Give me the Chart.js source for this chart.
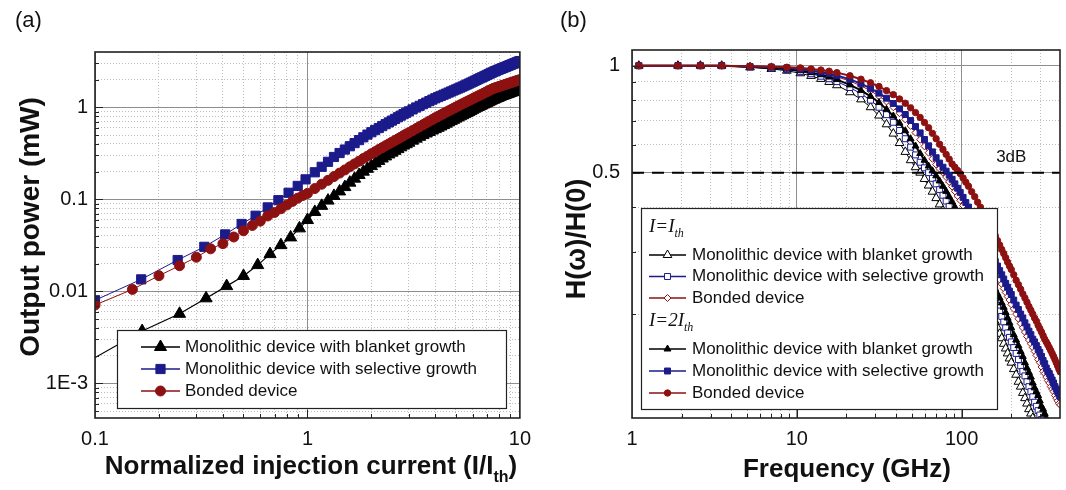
<!DOCTYPE html>
<html>
<head>
<meta charset="utf-8">
<script src="https://cdn.jsdelivr.net/npm/chart.js@4.4.1/dist/chart.umd.min.js"></script>
<style>
  body { margin: 0; background: #fff; }
  #page { position: relative; width: 1066px; height: 490px; overflow: hidden; font-family: "Liberation Sans", Arial, sans-serif; color: #111; }
  canvas { position: absolute; top: 0; }
  #ca { left: 0; }
  #cb { left: 540px; }
  .t { position: absolute; white-space: nowrap; line-height: 1; }
  .ttl { font-weight: bold; transform: translate(-50%, -50%); }
  .rot { transform: translate(-50%, -50%) rotate(-90deg); }
  .ttl sub { font-size: 16px; vertical-align: -8px; }
</style>
</head>
<body>
<div id="page">
  <canvas id="ca" width="540" height="490"></canvas>
  <canvas id="cb" width="526" height="490"></canvas>
  <div class="t" style="left:15px;top:9px;font-size:22px">(a)</div>
  <div class="t" style="left:560px;top:9px;font-size:22px">(b)</div>
  <div class="t ttl rot" style="left:30px;top:227px;font-size:28px">Output power (mW)</div>
  <div class="t ttl" style="left:311px;top:468px;font-size:26px">Normalized injection current (I/I<sub>th</sub>)</div>
  <div class="t ttl rot" style="left:576px;top:239px;font-size:27px">H(ω)/H(0)</div>
  <div class="t ttl" style="left:847px;top:468px;font-size:26px">Frequency (GHz)</div>
</div>
<script>
// ---- panel (a): output power vs normalized current ----
const seriesNames = ['Monolithic device with blanket growth', 'Monolithic device with selective growth', 'Bonded device'];

// current points above threshold, shared by the three L-I curves
const upperX = [1.0833, 1.1667, 1.25, 1.3333, 1.4167, 1.5, 1.5833, 1.6667, 1.75, 1.8333, 1.9167, 2.0,
  2.0833, 2.1667, 2.25, 2.3333, 2.4167, 2.5, 2.5833, 2.6667, 2.75, 2.8333, 2.9167, 3.0,
  3.125, 3.25, 3.375, 3.5, 3.625, 3.75, 3.875, 4.0,
  4.125, 4.25, 4.375, 4.5, 4.625, 4.75, 4.875, 5.0,
  5.125, 5.25, 5.375, 5.5, 5.625, 5.75, 5.875, 6.0,
  6.125, 6.25, 6.375, 6.5, 6.625, 6.75, 6.875, 7.0,
  7.125, 7.25, 7.375, 7.5, 7.625, 7.75, 7.875, 8.0,
  8.125, 8.25, 8.375, 8.5, 8.625, 8.75, 8.875, 9.0,
  9.125, 9.25, 9.375, 9.5, 9.625, 9.75, 9.875, 10.0];

const blanketX = [0.0833, 0.1667, 0.25, 0.3333, 0.4167, 0.5, 0.5833, 0.6667, 0.75, 0.8333, 0.9167, 1.0].concat(upperX);
const blanketP = [0.0015, 0.0037, 0.0057, 0.0084, 0.0114, 0.0147, 0.0193, 0.0254, 0.0318, 0.0386, 0.0484, 0.0596,
  0.073, 0.085, 0.097, 0.109, 0.122, 0.136, 0.152, 0.168, 0.184, 0.2, 0.215, 0.23,
  0.246, 0.262, 0.278, 0.293, 0.308, 0.322, 0.337, 0.352, 0.368, 0.384, 0.398, 0.413,
  0.435, 0.457, 0.479, 0.5, 0.52, 0.54, 0.56, 0.58,
  0.6, 0.62, 0.642, 0.665, 0.687, 0.71, 0.732, 0.755,
  0.777, 0.8, 0.822, 0.845, 0.867, 0.89, 0.915, 0.94,
  0.965, 0.99, 1.01, 1.03, 1.052, 1.075, 1.098, 1.12,
  1.142, 1.165, 1.188, 1.21, 1.23, 1.25, 1.27, 1.29,
  1.31, 1.33, 1.345, 1.36, 1.378, 1.395, 1.412, 1.43,
  1.447, 1.464, 1.48, 1.497, 1.513, 1.53, 1.547, 1.565];

const selectiveX = [0.1, 0.165, 0.245, 0.327, 0.41, 0.49, 0.57, 0.65, 0.73, 0.815, 0.9, 0.98].concat(upperX);
const selectiveP = [0.008, 0.0135, 0.0219, 0.0305, 0.0416, 0.054, 0.0664, 0.0818, 0.098, 0.118, 0.14, 0.165,
  0.197, 0.226, 0.256, 0.289, 0.319, 0.348, 0.378, 0.409, 0.441, 0.473, 0.506, 0.537,
  0.567, 0.596, 0.626, 0.657, 0.687, 0.718, 0.749, 0.781, 0.813, 0.844, 0.874, 0.905,
  0.951, 0.997, 1.04, 1.083, 1.126, 1.17, 1.214, 1.256,
  1.295, 1.334, 1.373, 1.411, 1.45, 1.489, 1.528, 1.567,
  1.605, 1.644, 1.686, 1.729, 1.771, 1.815, 1.858, 1.901,
  1.944, 1.987, 2.031, 2.075, 2.118, 2.162, 2.206, 2.25,
  2.295, 2.339, 2.383, 2.428, 2.472, 2.51, 2.548, 2.586,
  2.624, 2.662, 2.7, 2.737, 2.775, 2.813, 2.851, 2.888,
  2.926, 2.963, 3.001, 3.038, 3.076, 3.113, 3.151, 3.188];

const bondedX = [0.1, 0.15, 0.2, 0.25, 0.3, 0.35, 0.4, 0.45, 0.5, 0.55, 0.6, 0.65, 0.7, 0.75, 0.8, 0.85, 0.9, 0.95, 1.0].concat(upperX);
const bondedP = [0.0071, 0.0105, 0.0148, 0.019, 0.0235, 0.029, 0.033, 0.039, 0.0455, 0.052, 0.058, 0.066, 0.072, 0.079, 0.087, 0.095, 0.103, 0.11, 0.116,
  0.131, 0.146, 0.161, 0.177, 0.193, 0.209, 0.226, 0.243, 0.26, 0.278, 0.295, 0.313,
  0.33, 0.348, 0.365, 0.383, 0.401, 0.419, 0.437, 0.455, 0.474, 0.493, 0.512, 0.531,
  0.559, 0.589, 0.618, 0.648, 0.678, 0.709, 0.74, 0.771,
  0.8, 0.829, 0.859, 0.888, 0.918, 0.948, 0.978, 1.008,
  1.037, 1.066, 1.095, 1.125, 1.154, 1.184, 1.213, 1.243,
  1.273, 1.303, 1.333, 1.363, 1.393, 1.423, 1.454, 1.484,
  1.515, 1.545, 1.576, 1.607, 1.627, 1.648, 1.668, 1.688,
  1.708, 1.728, 1.748, 1.767, 1.787, 1.807, 1.826, 1.846,
  1.865, 1.885, 1.904, 1.923, 1.943, 1.962, 1.981, 2.0];

const xTicksA = [0.1, 1, 10];
const xLabelsA = ['0.1', '1', '10'];
const yTicksA = [0.001, 0.01, 0.1, 1];
const yLabelsA = ['1E-3', '0.01', '0.1', '1'];

// ---- panel (b): normalized modulation response ----
const freq = [1.1, 1.9, 2.6, 3.5, 5.2, 7, 8.7, 10.5, 12.2, 14, 15.7, 17.5,
  21, 24.5, 28, 31.5, 35, 38.5, 42, 45.5, 49, 52.5, 56, 59.5, 63, 66.5, 70,
  73.5, 77, 80.5, 84, 87.5, 91, 94.5, 98, 102, 106, 110,
  115, 120, 125, 130, 135, 140, 145, 150, 155, 160, 165, 170, 175, 180, 185, 190, 195, 200,
  207, 214, 221, 228, 235, 242, 249, 256, 263, 270, 277, 284, 291, 298, 305, 312, 319, 326,
  333, 340, 347, 354, 361, 368, 375, 382, 389, 396, 403];

const blanketIth = [1, 1, 1, 1, 0.989, 0.979, 0.968, 0.952, 0.936, 0.918, 0.9, 0.881,
  0.842, 0.804, 0.764, 0.724, 0.684, 0.644, 0.606, 0.572, 0.542, 0.518, 0.5, 0.48, 0.46, 0.442, 0.424,
  0.407, 0.391, 0.376, 0.362, 0.349, 0.336, 0.324, 0.313, 0.302, 0.29, 0.279,
  0.267, 0.257, 0.247, 0.238, 0.229, 0.222, 0.214, 0.206, 0.198, 0.19, 0.183, 0.176, 0.171, 0.165, 0.16, 0.155, 0.15, 0.146,
  0.14, 0.135, 0.129, 0.125, 0.12, 0.116, 0.112, 0.108, 0.105, 0.102, 0.098];
const selectiveIth = [1, 1, 1, 1, 0.991, 0.984, 0.975, 0.962, 0.949, 0.934, 0.919, 0.902,
  0.868, 0.834, 0.8, 0.764, 0.728, 0.693, 0.657, 0.623, 0.59, 0.561, 0.535, 0.516, 0.5, 0.482, 0.465,
  0.448, 0.432, 0.416, 0.402, 0.388, 0.375, 0.362, 0.35, 0.337, 0.325, 0.314,
  0.301, 0.288, 0.276, 0.266, 0.257, 0.248, 0.24, 0.232, 0.225, 0.218, 0.211, 0.204, 0.197, 0.19, 0.183, 0.177, 0.172, 0.167,
  0.161, 0.155, 0.149, 0.143, 0.138, 0.134, 0.129, 0.125, 0.121, 0.117, 0.113, 0.11, 0.107, 0.104, 0.101, 0.098];
const bondedIth = [1, 1, 1, 1, 0.994, 0.99, 0.984, 0.975, 0.967, 0.955, 0.944, 0.931,
  0.905, 0.878, 0.85, 0.821, 0.793, 0.764, 0.735, 0.706, 0.677, 0.648, 0.619, 0.593, 0.569, 0.547, 0.527,
  0.513, 0.5, 0.486, 0.471, 0.457, 0.443, 0.43, 0.418, 0.404, 0.391, 0.378,
  0.363, 0.35, 0.337, 0.324, 0.313, 0.302, 0.292, 0.282, 0.272, 0.265, 0.257, 0.25, 0.243, 0.236, 0.23, 0.224, 0.219, 0.213,
  0.207, 0.2, 0.194, 0.188, 0.183, 0.178, 0.173, 0.169, 0.165, 0.161, 0.157, 0.153, 0.149, 0.146, 0.142, 0.138, 0.136, 0.133,
  0.13, 0.128, 0.125, 0.123, 0.121, 0.118, 0.116, 0.114, 0.112, 0.111, 0.109];
const blanket2Ith = [1, 1, 1, 1, 0.993, 0.987, 0.978, 0.968, 0.956, 0.943, 0.929, 0.914,
  0.883, 0.852, 0.82, 0.788, 0.754, 0.722, 0.689, 0.656, 0.623, 0.594, 0.566, 0.542, 0.522, 0.506, 0.49,
  0.474, 0.458, 0.443, 0.428, 0.414, 0.4, 0.387, 0.376, 0.362, 0.35, 0.338,
  0.324, 0.311, 0.299, 0.287, 0.276, 0.267, 0.258, 0.249, 0.242, 0.235, 0.228, 0.222, 0.215, 0.209, 0.202, 0.195, 0.189, 0.183,
  0.175, 0.169, 0.163, 0.157, 0.152, 0.146, 0.141, 0.137, 0.133, 0.128, 0.124, 0.121, 0.118, 0.114, 0.11, 0.108, 0.105, 0.102,
  0.0995, 0.097];
const selective2Ith = [1, 1, 1, 1, 0.995, 0.991, 0.986, 0.978, 0.97, 0.96, 0.95, 0.939,
  0.915, 0.89, 0.863, 0.837, 0.81, 0.783, 0.756, 0.729, 0.701, 0.674, 0.647, 0.62, 0.595, 0.572, 0.551,
  0.532, 0.518, 0.505, 0.492, 0.479, 0.465, 0.452, 0.44, 0.426, 0.412, 0.4,
  0.385, 0.37, 0.357, 0.344, 0.332, 0.321, 0.31, 0.3, 0.291, 0.281, 0.273, 0.265, 0.258, 0.251, 0.244, 0.238, 0.232, 0.227,
  0.219, 0.212, 0.206, 0.2, 0.195, 0.189, 0.184, 0.179, 0.175, 0.17, 0.167, 0.163, 0.159, 0.156, 0.152, 0.148, 0.145, 0.141,
  0.138, 0.136, 0.133, 0.1305, 0.128, 0.125, 0.123, 0.121, 0.119, 0.117, 0.115];
const bonded2Ith = [1, 1, 1, 1, 0.997, 0.993, 0.99, 0.986, 0.979, 0.972, 0.965, 0.956,
  0.937, 0.916, 0.895, 0.874, 0.851, 0.829, 0.806, 0.784, 0.761, 0.738, 0.715, 0.692, 0.669, 0.645, 0.623,
  0.601, 0.581, 0.563, 0.546, 0.529, 0.518, 0.507, 0.497, 0.483, 0.47, 0.458,
  0.442, 0.428, 0.413, 0.4, 0.387, 0.375, 0.363, 0.352, 0.341, 0.332, 0.322, 0.313, 0.304, 0.296, 0.288, 0.28, 0.273, 0.267,
  0.258, 0.249, 0.242, 0.235, 0.228, 0.222, 0.216, 0.21, 0.205, 0.2, 0.195, 0.191, 0.186, 0.182, 0.178, 0.174, 0.17, 0.167,
  0.164, 0.161, 0.158, 0.155, 0.152, 0.149, 0.146, 0.143, 0.14, 0.1375, 0.135];

const threeDb = 0.5;
const xTicksB = [1, 10, 100];
const xLabelsB = ['1', '10', '100'];
const yTicksB = [0.5, 1];
const yLabelsB = ['0.5', '1'];

// ---- helpers ----
const BLACK = '#000000', BLUE = '#1b1b8c', RED = '#8e1111';
const FONT = '"Liberation Sans", Arial, sans-serif';
Chart.defaults.font.family = FONT;

function pts(xs, ys) {
  return ys.map((v, i) => ({ x: xs[i], y: v }));
}

function near(v, list) {
  return list.findIndex(t => Math.abs(v - t) < t * 1e-6);
}

function logGrid(min, max) {
  const out = [];
  for (let e = Math.floor(Math.log10(min)); e <= Math.ceil(Math.log10(max)); e++) {
    for (let m = 1; m < 10; m++) {
      const v = parseFloat((m * Math.pow(10, e)).toPrecision(6));
      if (v >= min * 0.9999 && v <= max * 1.0001) out.push(v);
    }
  }
  return out;
}

function logAxis(min, max, major, labels, pad, size) {
  return {
    type: 'logarithmic',
    min: min,
    max: max,
    afterBuildTicks: s => { s.ticks = logGrid(min, max).map(v => ({ value: v })); },
    afterFit: s => { if (s.isHorizontal()) s.height = size; else s.width = size; },
    ticks: {
      autoSkip: false,
      maxRotation: 0,
      padding: pad,
      color: '#111',
      font: { size: 20 },
      callback: v => { const i = near(v, major); return i < 0 ? '' : labels[i]; }
    },
    grid: {
      drawTicks: false,
      lineWidth: 1,
      color: c => (c.tick && near(c.tick.value, major) >= 0) ? '#8e8e8e' : '#bdbdbd'
    },
    border: {
      display: false,
      dash: c => (c.tick && near(c.tick.value, major) < 0) ? [1, 2] : []
    }
  };
}

function drawMarker(ctx, s, x, y) {
  const r = s.r;
  ctx.beginPath();
  if (s.shape === 'triangle') {
    ctx.moveTo(x, y - r);
    ctx.lineTo(x + r * 0.866, y + r * 0.5);
    ctx.lineTo(x - r * 0.866, y + r * 0.5);
    ctx.closePath();
  } else if (s.shape === 'rect') {
    const h = r * Math.SQRT1_2;
    ctx.rect(x - h, y - h, 2 * h, 2 * h);
  } else if (s.shape === 'rectRot') {
    ctx.moveTo(x, y - r); ctx.lineTo(x + r, y); ctx.lineTo(x, y + r); ctx.lineTo(x - r, y);
    ctx.closePath();
  } else {
    ctx.arc(x, y, r, 0, Math.PI * 2);
  }
  ctx.fillStyle = s.open ? '#fff' : s.color;
  ctx.fill();
  ctx.lineWidth = 1;
  ctx.strokeStyle = s.color;
  ctx.stroke();
}

function drawLegend(ctx, L) {
  ctx.fillStyle = '#fff';
  ctx.fillRect(L.box[0], L.box[1], L.box[2], L.box[3]);
  ctx.lineWidth = 1.2;
  ctx.strokeStyle = '#222';
  ctx.strokeRect(L.box[0] + 0.5, L.box[1] + 0.5, L.box[2], L.box[3]);
  ctx.textBaseline = 'middle';
  ctx.textAlign = 'left';
  L.rows.forEach(row => {
    if (row.header) {
      ctx.fillStyle = '#111';
      ctx.font = 'italic 19px "Liberation Serif", "Times New Roman", serif';
      ctx.fillText(row.header, L.lineX[0], row.y);
      const w = ctx.measureText(row.header).width;
      ctx.font = 'italic 12px "Liberation Serif", "Times New Roman", serif';
      ctx.fillText('th', L.lineX[0] + w, row.y + 7);
      return;
    }
    ctx.strokeStyle = row.style.color;
    ctx.lineWidth = 1.3;
    ctx.beginPath();
    ctx.moveTo(L.lineX[0], row.y);
    ctx.lineTo(L.lineX[1], row.y);
    ctx.stroke();
    drawMarker(ctx, row.style, (L.lineX[0] + L.lineX[1]) / 2, row.y);
    ctx.fillStyle = '#111';
    ctx.font = '17px ' + FONT;
    ctx.fillText(row.text, L.textX, row.y);
  });
}

function framePlugin(cfg) {
  return {
    id: 'frame',
    afterDatasetsDraw(chart) {
      const ctx = chart.ctx, a = chart.chartArea;
      const xs = chart.scales.x, ys = chart.scales.y;
      ctx.save();
      if (cfg.extra) cfg.extra(chart);
      ctx.strokeStyle = '#222';
      ctx.lineWidth = 1;
      ctx.beginPath();
      xs.ticks.forEach(t => {
        const p = Math.round(xs.getPixelForValue(t.value)) + 0.5;
        if (p <= a.left + 1 || p >= a.right - 1) return;
        const len = near(t.value, cfg.majorX) >= 0 ? 8 : 4;
        ctx.moveTo(p, a.bottom); ctx.lineTo(p, a.bottom - len);
      });
      ys.ticks.forEach(t => {
        const p = Math.round(ys.getPixelForValue(t.value)) + 0.5;
        if (p <= a.top + 1 || p >= a.bottom - 1) return;
        const len = near(t.value, cfg.majorY) >= 0 ? 8 : 4;
        ctx.moveTo(a.left, p); ctx.lineTo(a.left + len, p);
      });
      ctx.stroke();
      drawLegend(ctx, cfg.legend);
      ctx.lineWidth = 1.6;
      ctx.strokeStyle = '#222';
      ctx.strokeRect(a.left, a.top, a.right - a.left, a.bottom - a.top);
      ctx.restore();
    }
  };
}

function lineSet(label, data, s, width) {
  return {
    label: label,
    data: data,
    borderColor: s.color,
    borderWidth: width,
    pointStyle: s.shape,
    pointRadius: s.r,
    pointBorderWidth: 1,
    pointBorderColor: s.color,
    pointBackgroundColor: s.open ? '#fff' : s.color,
    tension: 0
  };
}

const baseOpts = {
  responsive: false,
  animation: false,
  devicePixelRatio: 1,
  events: [],
  plugins: { legend: { display: false }, tooltip: { enabled: false } }
};

// ---- chart (a) ----
const styleA = [
  { color: BLACK, shape: 'triangle', r: 7, open: false },
  { color: BLUE, shape: 'rect', r: 6.5, open: false },
  { color: RED, shape: 'circle', r: 5, open: false }
];

new Chart(document.getElementById('ca'), {
  type: 'line',
  data: {
    datasets: [
      lineSet(seriesNames[2], pts(bondedX, bondedP), styleA[2], 1),
      lineSet(seriesNames[1], pts(selectiveX, selectiveP), styleA[1], 1),
      lineSet(seriesNames[0], pts(blanketX, blanketP), styleA[0], 1.2)
    ]
  },
  options: Object.assign({}, baseOpts, {
    layout: { padding: { left: 0, top: 52, right: 13, bottom: 0 } },
    scales: {
      x: logAxis(0.1, 10, xTicksA, xLabelsA, 9, 72),
      y: logAxis(4.2e-4, 4, yTicksA, yLabelsA, 7, 95)
    }
  }),
  plugins: [framePlugin({
    majorX: xTicksA,
    majorY: yTicksA,
    legend: {
      box: [117, 330, 389, 78],
      lineX: [141, 180],
      textX: 185,
      rows: [
        { y: 347, style: styleA[0], text: seriesNames[0] },
        { y: 369, style: styleA[1], text: seriesNames[1] },
        { y: 391, style: styleA[2], text: seriesNames[2] }
      ]
    }
  })]
});

// ---- chart (b) ----
const styleIth = [
  { color: BLACK, shape: 'triangle', r: 5, open: true },
  { color: BLUE, shape: 'rect', r: 4.2, open: true },
  { color: RED, shape: 'rectRot', r: 3.5, open: true }
];
const style2Ith = [
  { color: BLACK, shape: 'triangle', r: 4, open: false },
  { color: BLUE, shape: 'rect', r: 4.2, open: false },
  { color: RED, shape: 'circle', r: 3.2, open: false }
];
const freqMin = 1, freqMax = 395;

new Chart(document.getElementById('cb'), {
  type: 'line',
  data: {
    datasets: [
      {
        label: '3dB',
        data: [{ x: freqMin, y: threeDb }, { x: freqMax, y: threeDb }],
        borderColor: '#000',
        borderWidth: 2,
        borderDash: [12, 8],
        pointRadius: 0
      },
      lineSet(seriesNames[2] + ' 2Ith', pts(freq, bonded2Ith), style2Ith[2], 2),
      lineSet(seriesNames[1] + ' 2Ith', pts(freq, selective2Ith), style2Ith[1], 2),
      lineSet(seriesNames[0] + ' 2Ith', pts(freq, blanket2Ith), style2Ith[0], 2),
      lineSet(seriesNames[2] + ' Ith', pts(freq, bondedIth), styleIth[2], 1),
      lineSet(seriesNames[1] + ' Ith', pts(freq, selectiveIth), styleIth[1], 1),
      lineSet(seriesNames[0] + ' Ith', pts(freq, blanketIth), styleIth[0], 1)
    ]
  },
  options: Object.assign({}, baseOpts, {
    layout: { padding: { left: 0, top: 50, right: 4, bottom: 0 } },
    scales: {
      x: logAxis(freqMin, freqMax, xTicksB, xLabelsB, 9, 72),
      y: logAxis(0.102, 1.107, yTicksB, yLabelsB, 12, 92)
    }
  }),
  plugins: [framePlugin({
    majorX: xTicksB,
    majorY: yTicksB,
    extra: chart => {
      const c = chart.ctx;
      c.fillStyle = '#111';
      c.font = '17px ' + FONT;
      c.textAlign = 'center';
      c.textBaseline = 'middle';
      c.fillText('3dB', chart.scales.x.getPixelForValue(200), chart.scales.y.getPixelForValue(threeDb) - 15);
    },
    legend: {
      box: [101, 208, 356, 201],
      lineX: [109, 146],
      textX: 152,
      rows: [
        { y: 227, header: 'I=I' },
        { y: 255, style: styleIth[0], text: seriesNames[0] },
        { y: 276.5, style: styleIth[1], text: seriesNames[1] },
        { y: 298, style: styleIth[2], text: seriesNames[2] },
        { y: 321, header: 'I=2I' },
        { y: 349, style: style2Ith[0], text: seriesNames[0] },
        { y: 371, style: style2Ith[1], text: seriesNames[1] },
        { y: 393, style: style2Ith[2], text: seriesNames[2] }
      ]
    }
  })]
});
</script>
</body>
</html>
